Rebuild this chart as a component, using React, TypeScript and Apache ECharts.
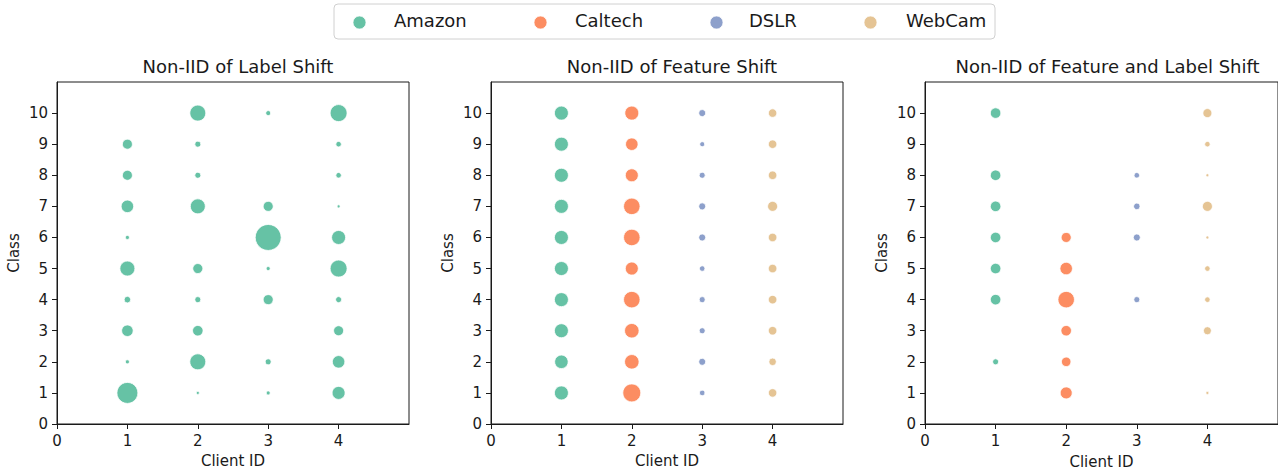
import React, { useEffect, useRef } from "react";
import * as echarts from "echarts";

// ---------- data ----------
const domains = ["Amazon", "Caltech", "DSLR", "WebCam"];
const domainColors = ["#66c2a5", "#fc8d62", "#8da0cb", "#e5c494"];
const classes = [1, 2, 3, 4, 5, 6, 7, 8, 9, 10];
const clientTicks = [0, 1, 2, 3, 4];
const classTicks = [0, 1, 2, 3, 4, 5, 6, 7, 8, 9, 10];
const titles = [
  "Non-IID of Label Shift",
  "Non-IID of Feature Shift",
  "Non-IID of Feature and Label Shift",
];

// marker diameters (px) per class 1..10, 0 = no sample
// Panel 1: Label shift (Amazon split across clients)
const labelAmazonClient1 = [21, 4, 11.5, 6.5, 15, 4, 12.5, 10, 10, 0];
const labelAmazonClient2 = [3, 16, 10.5, 6, 10, 0, 15, 6, 6, 16];
const labelAmazonClient3 = [4, 6, 0, 10, 4, 26, 10, 0, 0, 5];
const labelAmazonClient4 = [13, 12.5, 10, 6, 17, 14, 3, 5.5, 5.5, 17];

// Panel 2: Feature shift (one domain per client)
const featureAmazon = [14, 13.5, 14, 14, 14, 14, 14, 14, 14, 14];
const featureCaltech = [18, 14.5, 14.5, 16.5, 13, 16.5, 16.5, 13, 12.5, 14];
const featureDSLR = [5.5, 7, 6, 6, 5.5, 7, 7, 6, 5, 7];
const featureWebCam = [8.5, 7.5, 8.5, 8.5, 8.5, 8.5, 10, 8.5, 8.5, 8.5];

// Panel 3: Feature and label shift
const bothAmazon = [0, 6, 0, 10.5, 10.5, 10.5, 10.5, 10.5, 0, 10.5];
const bothCaltech = [12, 9.5, 10.5, 16.5, 12.5, 10, 0, 0, 0, 0];
const bothDSLR = [0, 0, 0, 6, 0, 7, 6.5, 5.5, 0, 0];
const bothWebCam = [3, 0, 8, 5.5, 5.5, 3, 10, 3, 5.5, 9];

// ---------- helpers ----------
const FONT = "DejaVu Sans";
const INK = "#1a1a1a";

function toPoints(client: number, sizes: number[]) {
  const pts: number[][] = [];
  sizes.forEach((s, i) => {
    if (s > 0) pts.push([client, classes[i], s]);
  });
  return pts;
}

type Spec = { grid: number; domain: number; client: number; sizes: number[] };

const seriesSpecs: Spec[] = [
  { grid: 0, domain: 0, client: 1, sizes: labelAmazonClient1 },
  { grid: 0, domain: 0, client: 2, sizes: labelAmazonClient2 },
  { grid: 0, domain: 0, client: 3, sizes: labelAmazonClient3 },
  { grid: 0, domain: 0, client: 4, sizes: labelAmazonClient4 },
  { grid: 1, domain: 0, client: 1, sizes: featureAmazon },
  { grid: 1, domain: 1, client: 2, sizes: featureCaltech },
  { grid: 1, domain: 2, client: 3, sizes: featureDSLR },
  { grid: 1, domain: 3, client: 4, sizes: featureWebCam },
  { grid: 2, domain: 0, client: 1, sizes: bothAmazon },
  { grid: 2, domain: 1, client: 2, sizes: bothCaltech },
  { grid: 2, domain: 2, client: 3, sizes: bothDSLR },
  { grid: 2, domain: 3, client: 4, sizes: bothWebCam },
];

const grids = [
  { left: 57, top: 82, width: 352, height: 342 },
  { left: 491, top: 82, width: 352, height: 342 },
  { left: 925, top: 82, width: 355, height: 345 },
];

// legend layout (matplotlib-style frame)
const legendBox = { x: 334, y: 4, width: 661, height: 35 };
const legendMarkerX = [359.5, 540.5, 716.5, 870.5];
const legendTextX = [394, 575, 749, 906];

export default function App() {
  const ref = useRef<HTMLDivElement>(null);

  useEffect(() => {
    document.body.style.margin = "0";
    if (!ref.current) return;
    const chart = echarts.init(ref.current, undefined, { renderer: "svg" });

    const axisLineStyle = { color: INK, width: 1 };

    const legendElements: any[] = [
      {
        type: "rect",
        shape: { ...legendBox, r: 4 },
        style: { fill: "#ffffff", stroke: "#d0d0d0", lineWidth: 1 },
        silent: true,
      },
    ];
    domains.forEach((d, i) => {
      legendElements.push({
        type: "circle",
        shape: { cx: legendMarkerX[i], cy: 22.5, r: 6.5 },
        style: { fill: domainColors[i], stroke: "#ffffff", lineWidth: 0.8 },
        silent: true,
      });
      legendElements.push({
        type: "text",
        x: legendTextX[i],
        y: 20,
        style: {
          text: d,
          fontFamily: FONT,
          fontSize: 18,
          fill: INK,
          align: "left",
          verticalAlign: "middle",
        },
        silent: true,
      });
    });

    const option: any = {
      animation: false,
      textStyle: { fontFamily: FONT },
      title: titles.map((t, i) => ({
        text: t,
        left: grids[i].left + grids[i].width / 2,
        top: 52,
        textAlign: "center",
        textStyle: { fontFamily: FONT, fontSize: 18, fontWeight: "normal", color: INK },
      })),
      graphic: legendElements,
      grid: grids.map((g) => ({
        ...g,
        show: true,
        borderColor: INK,
        borderWidth: 1,
        backgroundColor: "transparent",
        containLabel: false,
      })),
      xAxis: grids.map((_, i) => ({
        gridIndex: i,
        type: "value",
        min: 0,
        max: 5,
        interval: 1,
        name: "Client ID",
        nameLocation: "middle",
        nameGap: i === 2 ? 30 : 29,
        nameTextStyle: { fontFamily: FONT, fontSize: 15, color: INK },
        axisLine: { show: true, onZero: false, lineStyle: axisLineStyle },
        axisTick: { show: true, length: 5, customValues: clientTicks, lineStyle: axisLineStyle },
        axisLabel: { customValues: clientTicks, fontFamily: FONT, fontSize: 15, color: INK, margin: 9 },
        splitLine: { show: false },
      })),
      yAxis: grids.map((_, i) => ({
        gridIndex: i,
        type: "value",
        min: 0,
        max: 11,
        interval: 1,
        name: "Class",
        nameLocation: "middle",
        nameGap: 36,
        nameRotate: 90,
        nameTextStyle: { fontFamily: FONT, fontSize: 15, color: INK },
        axisLine: { show: true, onZero: false, lineStyle: axisLineStyle },
        axisTick: { show: true, length: 5, customValues: classTicks, lineStyle: axisLineStyle },
        axisLabel: { customValues: classTicks, fontFamily: FONT, fontSize: 15, color: INK, margin: 9 },
        splitLine: { show: false },
      })),
      series: seriesSpecs.map((s) => ({
        type: "scatter",
        name: domains[s.domain],
        xAxisIndex: s.grid,
        yAxisIndex: s.grid,
        data: toPoints(s.client, s.sizes),
        symbol: "circle",
        symbolSize: (v: number[]) => v[2],
        itemStyle: {
          color: domainColors[s.domain],
          borderColor: "#ffffff",
          borderWidth: 0.8,
          opacity: 1,
        },
        emphasis: { disabled: true },
        silent: true,
      })),
    };

    chart.setOption(option);
    return () => chart.dispose();
  }, []);

  return <div ref={ref} style={{ width: 1278, height: 474 }} />;
}
